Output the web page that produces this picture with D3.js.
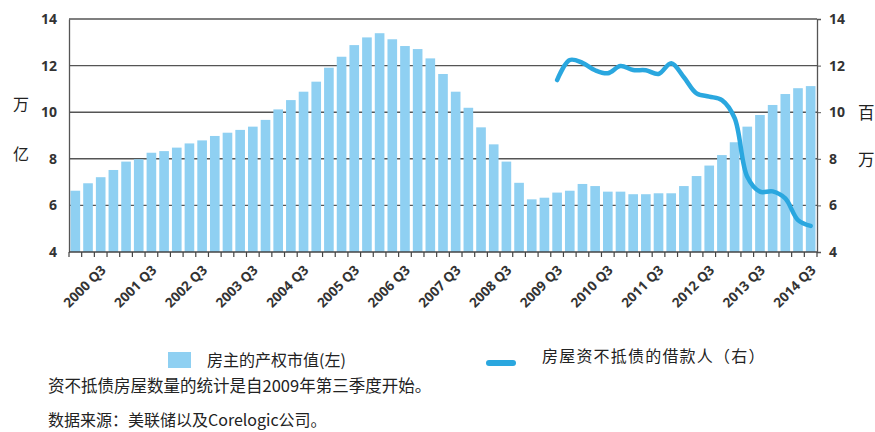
<!DOCTYPE html>
<html>
<head>
<meta charset="utf-8">
<script src="https://cdn.jsdelivr.net/npm/d3@7"></script>
<style>
  html, body { margin: 0; padding: 0; background: #fff; }
  svg { display: block; }
</style>
</head>
<body>
<svg id="chart" width="875" height="432"></svg>
<script>
// Quarterly categories, 2000 Q1 – 2014 Q3
const quarters = [
  "2000 Q1","2000 Q2","2000 Q3","2000 Q4","2001 Q1","2001 Q2","2001 Q3","2001 Q4",
  "2002 Q1","2002 Q2","2002 Q3","2002 Q4","2003 Q1","2003 Q2","2003 Q3","2003 Q4",
  "2004 Q1","2004 Q2","2004 Q3","2004 Q4","2005 Q1","2005 Q2","2005 Q3","2005 Q4",
  "2006 Q1","2006 Q2","2006 Q3","2006 Q4","2007 Q1","2007 Q2","2007 Q3","2007 Q4",
  "2008 Q1","2008 Q2","2008 Q3","2008 Q4","2009 Q1","2009 Q2","2009 Q3","2009 Q4",
  "2010 Q1","2010 Q2","2010 Q3","2010 Q4","2011 Q1","2011 Q2","2011 Q3","2011 Q4",
  "2012 Q1","2012 Q2","2012 Q3","2012 Q4","2013 Q1","2013 Q2","2013 Q3","2013 Q4",
  "2014 Q1","2014 Q2","2014 Q3"
];

// Owners' equity in real estate (trillions USD, left axis)
const ownersEquity = [
  6.63, 6.95, 7.21, 7.52, 7.88, 7.98, 8.26, 8.33,
  8.48, 8.66, 8.79, 8.98, 9.12, 9.24, 9.38, 9.67,
  10.12, 10.52, 10.88, 11.31, 11.91, 12.38, 12.88, 13.21,
  13.39, 13.13, 12.84, 12.71, 12.31, 11.64, 10.88, 10.19,
  9.35, 8.62, 7.88, 6.97, 6.26, 6.33, 6.55, 6.63,
  6.92, 6.83, 6.59, 6.59, 6.48, 6.48, 6.52, 6.52,
  6.83, 7.26, 7.71, 8.16, 8.71, 9.38, 9.88, 10.31,
  10.78, 11.03, 11.12
];

// Underwater borrowers (millions, right axis), 2009 Q3 – 2014 Q3
const underwaterQuarters = quarters.slice(quarters.indexOf("2009 Q3"));
const underwaterBorrowers = [
  11.38, 12.24, 12.12, 11.80, 11.67, 11.98, 11.81, 11.80,
  11.64, 12.10, 11.50, 10.81, 10.67, 10.52, 9.75, 7.23,
  6.59, 6.60, 6.30, 5.37, 5.12
];

const xTickLabels = [
  "2000 Q3","2001 Q3","2002 Q3","2003 Q3","2004 Q3","2005 Q3","2006 Q3","2007 Q3",
  "2008 Q3","2009 Q3","2010 Q3","2011 Q3","2012 Q3","2013 Q3","2014 Q3"
];
const yTicks = [4, 6, 8, 10, 12, 14];

const legendBars = "房主的产权市值(左)";
const legendLine = "房屋资不抵债的借款人（右）";
const leftUnit = ["万", "亿"];
const rightUnit = ["百", "万"];
const footNote = "资不抵债房屋数量的统计是自2009年第三季度开始。";
const sourceNote = "数据来源：美联储以及Corelogic公司。";

const svg = d3.select("#chart");
const W = 875, H = 432;
const m = { left: 69, right: 58, top: 19, bottom: 180 };
const iw = W - m.left - m.right;
const ih = H - m.top - m.bottom;

const numFont = "'Liberation Sans Narrow', 'Open Sans', 'DejaVu Sans Condensed', sans-serif";
const cjkFont = "'Noto Sans CJK SC', sans-serif";

const x = d3.scaleBand().domain(quarters).range([0, iw]).paddingInner(0.24).paddingOuter(0.12);
const yL = d3.scaleLinear().domain([4, 14]).range([ih, 0]);
const yR = d3.scaleLinear().domain([4, 14]).range([ih, 0]);

const g = svg.append("g").attr("transform", `translate(${m.left},${m.top})`);

// horizontal gridlines
g.append("g")
  .selectAll("line")
  .data(yTicks.filter(d => d > 4))
  .join("line")
  .attr("x1", 0).attr("x2", iw)
  .attr("y1", d => yL(d)).attr("y2", d => yL(d))
  .attr("stroke", "#555").attr("stroke-width", 1.4);

// equity bars
g.append("g")
  .selectAll("rect")
  .data(ownersEquity)
  .join("rect")
  .attr("x", (d, i) => x(quarters[i]))
  .attr("width", x.bandwidth())
  .attr("y", d => yL(d))
  .attr("height", d => yL(4) - yL(d))
  .attr("fill", "#8fd0f2");

// underwater borrowers line
const line = d3.line()
  .x((d, i) => x(underwaterQuarters[i]) + x.bandwidth() / 2)
  .y(d => yR(d))
  .curve(d3.curveCatmullRom.alpha(0.5));
g.append("path")
  .datum(underwaterBorrowers)
  .attr("d", line)
  .attr("fill", "none")
  .attr("stroke", "#2aa7df")
  .attr("stroke-width", 4.5)
  .attr("stroke-linejoin", "round")
  .attr("stroke-linecap", "round");

// left axis
const leftAxis = g.append("g").call(d3.axisLeft(yL).tickValues(yTicks).tickSize(0).tickPadding(12).tickFormat(d3.format("d")));
leftAxis.select(".domain").attr("stroke", "#555").attr("stroke-width", 1.3);
leftAxis.selectAll("text")
  .attr("font-family", numFont).attr("font-size", 14).attr("font-weight", "bold").attr("fill", "#333");

// right axis
const rightAxis = g.append("g").attr("transform", `translate(${iw},0)`)
  .call(d3.axisRight(yR).tickValues(yTicks).tickSize(4).tickPadding(8).tickFormat(d3.format("d")));
rightAxis.select(".domain").attr("stroke", "#555").attr("stroke-width", 1.3);
rightAxis.selectAll(".tick line").attr("stroke", "#555");
rightAxis.selectAll("text")
  .attr("font-family", numFont).attr("font-size", 14).attr("font-weight", "bold").attr("fill", "#333");

// bottom axis: ticks at quarter boundaries, labels on Q3
const xAxisG = g.append("g").attr("transform", `translate(0,${ih})`);
xAxisG.append("line").attr("x1", 0).attr("x2", iw).attr("y1", 0).attr("y2", 0)
  .attr("stroke", "#444").attr("stroke-width", 1.5);
const step = x.step();
const boundaries = d3.range(quarters.length + 1).map(i => i * step);
xAxisG.selectAll("line.tk")
  .data(boundaries)
  .join("line").attr("class", "tk")
  .attr("x1", d => d).attr("x2", d => d)
  .attr("y1", 0).attr("y2", 5)
  .attr("stroke", "#444").attr("stroke-width", 1.2);
xAxisG.selectAll("text")
  .data(xTickLabels)
  .join("text")
  .attr("transform", d => `translate(${x(d) + x.bandwidth() / 2 + 6},${19}) rotate(-45)`)
  .attr("text-anchor", "end")
  .attr("font-family", numFont).attr("font-size", 13.5).attr("font-weight", "bold")
  .attr("fill", "#333")
  .text(d => d);

// unit labels
svg.selectAll("text.lu")
  .data(leftUnit)
  .join("text").attr("class", "lu")
  .attr("x", 21).attr("y", (d, i) => 110 + i * 50)
  .attr("text-anchor", "middle")
  .attr("font-family", cjkFont).attr("font-size", 16).attr("fill", "#222")
  .text(d => d);
svg.selectAll("text.ru")
  .data(rightUnit)
  .join("text").attr("class", "ru")
  .attr("x", 858).attr("y", (d, i) => 119 + i * 47)
  .attr("font-family", cjkFont).attr("font-size", 16.5).attr("fill", "#222")
  .text(d => d);

// legend
svg.append("rect").attr("x", 168).attr("y", 352).attr("width", 23).attr("height", 16).attr("fill", "#8fd0f2");
svg.append("text").attr("x", 207).attr("y", 366)
  .attr("font-family", cjkFont).attr("font-size", 16).attr("fill", "#222").text(legendBars);
svg.append("line").attr("x1", 489).attr("x2", 513).attr("y1", 363).attr("y2", 363)
  .attr("stroke", "#2aa7df").attr("stroke-width", 6).attr("stroke-linecap", "round");
svg.append("text").attr("x", 542).attr("y", 362)
  .attr("font-family", cjkFont).attr("font-size", 16).attr("letter-spacing", 1.2)
  .attr("fill", "#222").text(legendLine);

// notes
svg.append("text").attr("x", 48).attr("y", 392)
  .attr("font-family", cjkFont).attr("font-size", 16.5).attr("fill", "#222").text(footNote);
svg.append("text").attr("x", 48).attr("y", 426)
  .attr("font-family", cjkFont).attr("font-size", 16).attr("fill", "#222").text(sourceNote);
</script>
</body>
</html>
